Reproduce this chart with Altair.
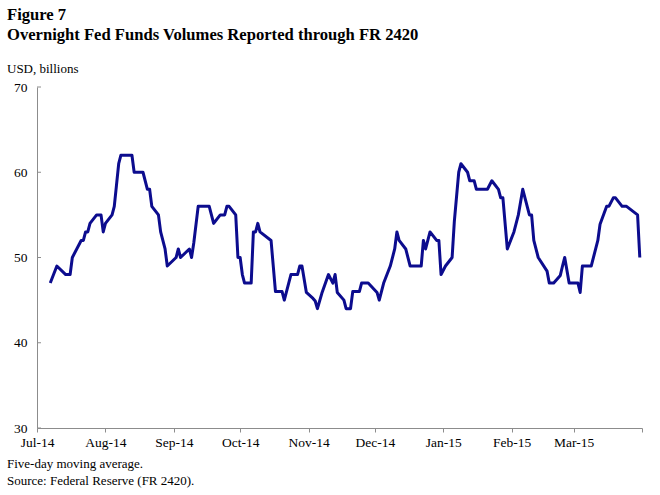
import altair as alt
import pandas as pd

dates = [
    "2014-07-07", "2014-07-10", "2014-07-14", "2014-07-16", "2014-07-17", "2014-07-21", "2014-07-22",
    "2014-07-23", "2014-07-24", "2014-07-25", "2014-07-28", "2014-07-30", "2014-07-31", "2014-08-01",
    "2014-08-04", "2014-08-05", "2014-08-06", "2014-08-07", "2014-08-08", "2014-08-13", "2014-08-14",
    "2014-08-18", "2014-08-20", "2014-08-21", "2014-08-22", "2014-08-25", "2014-08-26", "2014-08-28",
    "2014-08-29", "2014-09-02", "2014-09-03", "2014-09-04", "2014-09-08", "2014-09-09", "2014-09-10",
    "2014-09-12", "2014-09-17", "2014-09-19", "2014-09-22", "2014-09-24", "2014-09-25", "2014-09-26",
    "2014-09-29", "2014-09-30", "2014-10-01", "2014-10-02", "2014-10-03", "2014-10-06", "2014-10-07",
    "2014-10-08", "2014-10-09", "2014-10-10", "2014-10-15", "2014-10-17", "2014-10-20", "2014-10-21",
    "2014-10-24", "2014-10-27", "2014-10-28", "2014-10-29", "2014-10-31", "2014-11-03", "2014-11-04",
    "2014-11-05", "2014-11-07", "2014-11-10", "2014-11-12", "2014-11-13", "2014-11-14", "2014-11-17",
    "2014-11-18", "2014-11-20", "2014-11-21", "2014-11-24", "2014-11-25", "2014-11-28", "2014-12-02",
    "2014-12-03", "2014-12-05", "2014-12-08", "2014-12-10", "2014-12-11", "2014-12-12", "2014-12-15",
    "2014-12-17", "2014-12-22", "2014-12-23", "2014-12-24", "2014-12-26", "2014-12-29", "2014-12-30",
    "2014-12-31", "2015-01-02", "2015-01-05", "2015-01-06", "2015-01-08", "2015-01-09", "2015-01-12",
    "2015-01-13", "2015-01-15", "2015-01-16", "2015-01-21", "2015-01-23", "2015-01-26", "2015-01-27",
    "2015-01-28", "2015-01-30", "2015-02-02", "2015-02-04", "2015-02-06", "2015-02-09", "2015-02-10",
    "2015-02-11", "2015-02-13", "2015-02-17", "2015-02-18", "2015-02-20", "2015-02-23", "2015-02-24",
    "2015-02-25", "2015-02-27", "2015-03-03", "2015-03-04", "2015-03-05", "2015-03-09", "2015-03-12",
    "2015-03-13", "2015-03-16", "2015-03-17", "2015-03-19", "2015-03-20", "2015-03-23", "2015-03-25",
    "2015-03-30", "2015-03-31",
]
volumes = [
    47, 49, 48, 48, 50, 52, 52,
    53, 53, 54, 55, 55, 53, 54,
    55, 56, 58.5, 61, 62, 62, 60,
    60, 58, 58, 56, 55, 53, 51,
    49, 50, 51, 50, 51, 50, 51.7,
    56, 56, 54, 55, 55, 56, 56,
    55, 50, 50, 48, 47, 47, 53,
    53, 54, 53, 52, 46, 46, 45,
    48, 48, 49, 49, 45.9, 45.2, 44.9,
    44, 45.8, 48, 47, 48, 45.9, 45,
    44, 44, 46, 46, 47, 47, 45.9,
    45, 47, 49, 51, 53, 52, 51,
    49, 49, 52, 51, 53, 52, 52,
    48, 49, 50, 54.2, 60, 61, 60,
    59, 59, 58, 58, 59, 58, 57,
    57, 51, 53, 55, 58, 55, 55,
    52, 50, 48.4, 47, 47, 47.9, 49,
    50, 47, 47, 45.9, 49, 49, 52,
    53.9, 56, 56, 57, 57, 56, 56,
    55, 50,
]
y_ticks = [30, 40, 50, 60, 70]
title_lines = ["Figure 7", "Overnight Fed Funds Volumes Reported through FR 2420"]
unit_label = "USD, billions"
notes = ["Five-day moving average.", "Source: Federal Reserve (FR 2420)."]

df = pd.DataFrame({"date": dates, "volume": volumes})

FONT = "Liberation Serif"
AXIS_GRAY = "#8c8c8c"

month_ticks = [alt.DateTime(year=2014, month=m, date=1, utc=True) for m in range(7, 13)] + \
              [alt.DateTime(year=2015, month=m, date=1, utc=True) for m in range(1, 5)]

x_enc = alt.X(
    "date:T",
    scale=alt.Scale(
        type="utc",
        domain=[alt.DateTime(year=2014, month=7, date=1, utc=True),
                alt.DateTime(year=2015, month=4, date=1, utc=True)],
    ),
    axis=alt.Axis(
        values=month_ticks,
        labelExpr="utcmonth(datum.value) == 3 ? '' : utcFormat(datum.value, '%b-%y')",
        title=None,
        grid=False,
        domainColor=AXIS_GRAY,
        tickColor=AXIS_GRAY,
        tickSize=4,
        labelPadding=3,
        labelFont=FONT,
        labelFontSize=13.5,
        labelColor="black",
        labelFlush=False,
    ),
)
y_enc = alt.Y(
    "volume:Q",
    scale=alt.Scale(domain=[30, 70], nice=False, zero=False),
    axis=alt.Axis(
        values=y_ticks,
        title=None,
        grid=False,
        ticks=False,
        domainColor=AXIS_GRAY,
        labelPadding=10,
        labelFont=FONT,
        labelFontSize=13.5,
        labelColor="black",
    ),
)

line = alt.Chart(df).mark_line(color="#0c0c8e", strokeWidth=3, strokeJoin="round").encode(x=x_enc, y=y_enc)

ytick_layer = alt.Chart(pd.DataFrame({"v": y_ticks})).mark_rule(color=AXIS_GRAY, strokeWidth=1).encode(
    y=alt.Y("v:Q"), x=alt.value(0), x2=alt.value(4)
)

def text_layer(txt, xv, yv, size, weight="normal"):
    return alt.Chart(pd.DataFrame({"t": [txt]})).mark_text(
        align="left", baseline="alphabetic", font=FONT, fontSize=size, fontWeight=weight, color="black"
    ).encode(text="t:N", x=alt.value(xv), y=alt.value(yv))

texts = [
    text_layer(title_lines[0], -30, -67, 16.6, "bold"),
    text_layer(title_lines[1], -30, -47, 16.6, "bold"),
    text_layer(unit_label, -30, -14, 13),
    text_layer(notes[0], -30, 381, 13),
    text_layer(notes[1], -30, 398, 13),
]

chart = alt.layer(ytick_layer, line, *texts).properties(
    width=605,
    height=341,
    autosize=alt.AutoSizeParams(type="none"),
    padding={"left": 37, "top": 87, "right": 18, "bottom": 67},
    background="white",
).configure_view(stroke=None)

chart.save("out.html", embed_options={"renderer": "svg", "actions": False})
